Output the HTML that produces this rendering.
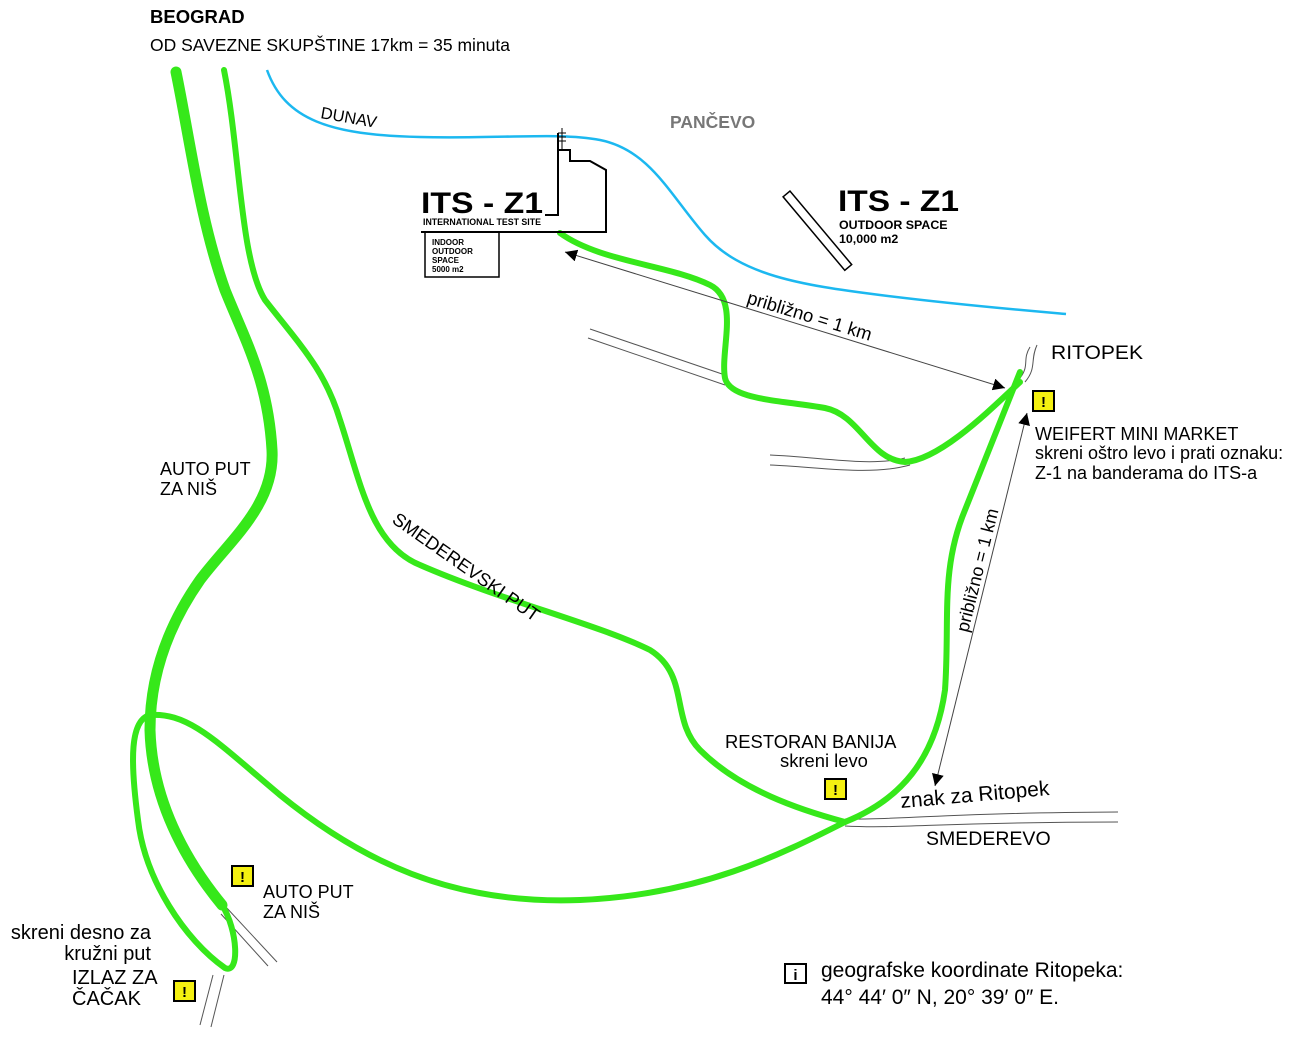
<!DOCTYPE html>
<html><head><meta charset="utf-8"><style>
html,body{margin:0;padding:0;background:#fff;}
svg{display:block;font-family:"Liberation Sans",sans-serif;}
</style></head><body>
<svg width="1300" height="1037" viewBox="0 0 1300 1037" xmlns="http://www.w3.org/2000/svg">
<defs>
<marker id="ah" viewBox="0 0 10 10" refX="10" refY="5" markerWidth="12" markerHeight="12" markerUnits="userSpaceOnUse" orient="auto-start-reverse">
<path d="M0,0 L10,5 L0,10 z" fill="#000"/></marker>
</defs>
<rect width="1300" height="1037" fill="#fff"/>
<path d="M267,70 C285,120 330,135 420,137 C500,139 560,132 600,140 C650,150 670,195 705,235 C740,275 800,285 880,295 C960,305 1020,310 1066,314" fill="none" stroke="#1cb8f0" stroke-width="2.5"/>
<g fill="none" stroke="#555" stroke-width="1">
<path d="M590,329 L725,375"/><path d="M588,338 L725,385"/>
<path d="M770,455 C820,457 870,467 905,458"/><path d="M770,465 C820,467 870,476 910,465"/>
<path d="M1030,347 C1022,360 1030,365 1020,378"/><path d="M1037,345 C1030,360 1037,368 1025,382"/>
<path d="M845,819 C900,820 940,813 1118,812"/><path d="M845,826 C900,829 940,822 1118,822"/>
<path d="M225,906 L277,962"/><path d="M221,914 L268,966"/>
<path d="M213,975 L200,1025"/><path d="M224,975 L211,1027"/>
</g>
<g fill="none" stroke="#36e81a" stroke-linecap="round" stroke-linejoin="round">
<path d="M176,72 C190,140 200,220 225,290 C245,340 268,380 272,450 C275,505 230,540 200,580 C165,630 150,680 150,730 C152,800 185,860 222,905" stroke-width="11"/>
<path d="M224,70 C240,150 240,260 265,300 C300,345 325,370 340,420 C360,480 370,545 420,565 C500,600 600,625 650,650 C690,675 670,720 700,750 C740,790 800,810 845,822" stroke-width="6"/>
<path d="M845,822 C780,855 700,895 580,900 C450,905 360,860 280,795 C220,745 190,712 150,715 C130,720 130,760 138,820 C145,880 185,940 225,968 C240,975 238,930 222,905" stroke-width="6"/>
<path d="M845,822 C900,800 935,760 945,690 C950,620 940,570 965,510 C985,460 1005,410 1020,372" stroke-width="6"/>
<path d="M1020,382 C990,410 940,460 905,462 C870,460 860,415 825,408 C780,400 730,400 725,378 C720,350 740,300 710,285 C670,265 600,262 560,233" stroke-width="6"/>
</g>
<line x1="565" y1="252" x2="1005" y2="388" stroke="#444" stroke-width="1" marker-start="url(#ah)" marker-end="url(#ah)"/>
<line x1="1027" y1="413" x2="935" y2="786" stroke="#444" stroke-width="1" marker-start="url(#ah)" marker-end="url(#ah)"/>
<path d="M558,133 L558,150 L570,150 L570,161 L590,161 L606,170 L606,232 L421,232 M421,232 L558,232 M558,150 L558,215 L545,215" fill="none" stroke="#000" stroke-width="2"/>
<g stroke="#000" stroke-width="1"><line x1="562" y1="128" x2="562" y2="150"/><line x1="558" y1="133" x2="566" y2="133"/><line x1="558" y1="137" x2="566" y2="137"/><line x1="558" y1="141" x2="566" y2="141"/></g>
<rect x="425" y="232" width="74" height="45" fill="none" stroke="#000" stroke-width="1.5"/>
<text x="421" y="213" font-size="30" font-weight="bold" textLength="122" lengthAdjust="spacingAndGlyphs">ITS - Z1</text>
<text x="423" y="225" font-size="8.8" font-weight="bold" textLength="118" lengthAdjust="spacingAndGlyphs">INTERNATIONAL TEST SITE</text>
<g font-size="8" font-weight="bold"><text x="432" y="245">INDOOR</text><text x="432" y="254">OUTDOOR</text><text x="432" y="263">SPACE</text><text x="432" y="272">5000 m2</text></g>
<rect x="813" y="183" width="9" height="96" fill="none" stroke="#000" stroke-width="1.5" transform="rotate(-40 817 231)"/>
<text x="838" y="211" font-size="30" font-weight="bold" textLength="121" lengthAdjust="spacingAndGlyphs">ITS - Z1</text>
<text x="839" y="229" font-size="12.4" font-weight="bold">OUTDOOR SPACE</text>
<text x="839" y="243" font-size="12.4" font-weight="bold">10,000 m2</text>
<text x="150" y="23" font-size="18.5" font-weight="bold">BEOGRAD</text>
<text x="150" y="51" font-size="17.5">OD SAVEZNE SKUPŠTINE 17km = 35 minuta</text>
<text x="320" y="118" font-size="16.5" transform="rotate(10 320 118)">DUNAV</text>
<text x="670" y="128" font-size="17.5" font-weight="bold" fill="#777">PANČEVO</text>
<text x="746" y="303" font-size="18.4" transform="rotate(17 746 303)">približno = 1 km</text>
<text x="1051" y="359" font-size="19" textLength="92" lengthAdjust="spacingAndGlyphs">RITOPEK</text>
<g font-size="18"><text x="1035" y="440">WEIFERT MINI MARKET</text><text x="1035" y="459">skreni oštro levo i prati oznaku:</text><text x="1035" y="479">Z-1 na banderama do ITS-a</text></g>
<text x="968" y="633" font-size="18" transform="rotate(-76 968 633)">približno = 1 km</text>
<g font-size="18"><text x="160" y="475">AUTO PUT</text><text x="160" y="495">ZA NIŠ</text></g>
<text x="391" y="522" font-size="18.4" transform="rotate(35 391 522)">SMEDEREVSKI PUT</text>
<g font-size="18.4"><text x="725" y="748">RESTORAN BANIJA</text><text x="780" y="767">skreni levo</text></g>
<text x="901" y="808" font-size="21" transform="rotate(-5 901 808)">znak za Ritopek</text>
<text x="926" y="845" font-size="19.5">SMEDEREVO</text>
<g font-size="18"><text x="263" y="898">AUTO PUT</text><text x="263" y="918">ZA NIŠ</text></g>
<g font-size="20"><text x="151" y="939" text-anchor="end">skreni desno za</text><text x="151" y="960" text-anchor="end">kružni put</text><text x="72" y="984">IZLAZ ZA</text><text x="72" y="1005">ČAČAK</text></g>
<g font-size="21"><text x="821" y="977">geografske koordinate Ritopeka:</text><text x="821" y="1004">44° 44′ 0″ N, 20° 39′ 0″ E.</text></g>
<g font-weight="bold" font-size="15" text-anchor="middle">
<rect x="1033" y="391" width="21" height="20" fill="#f4f011" stroke="#000" stroke-width="2"/><text x="1043.5" y="407">!</text>
<rect x="825" y="779" width="21" height="20" fill="#f4f011" stroke="#000" stroke-width="2"/><text x="835.5" y="795">!</text>
<rect x="232" y="866" width="21" height="20" fill="#f4f011" stroke="#000" stroke-width="2"/><text x="242.5" y="882">!</text>
<rect x="174" y="981" width="21" height="20" fill="#f4f011" stroke="#000" stroke-width="2"/><text x="184.5" y="997">!</text>
<rect x="785" y="964" width="21" height="19" fill="#fff" stroke="#000" stroke-width="2"/><text x="795.5" y="980">i</text>
</g>
</svg>
</body></html>
